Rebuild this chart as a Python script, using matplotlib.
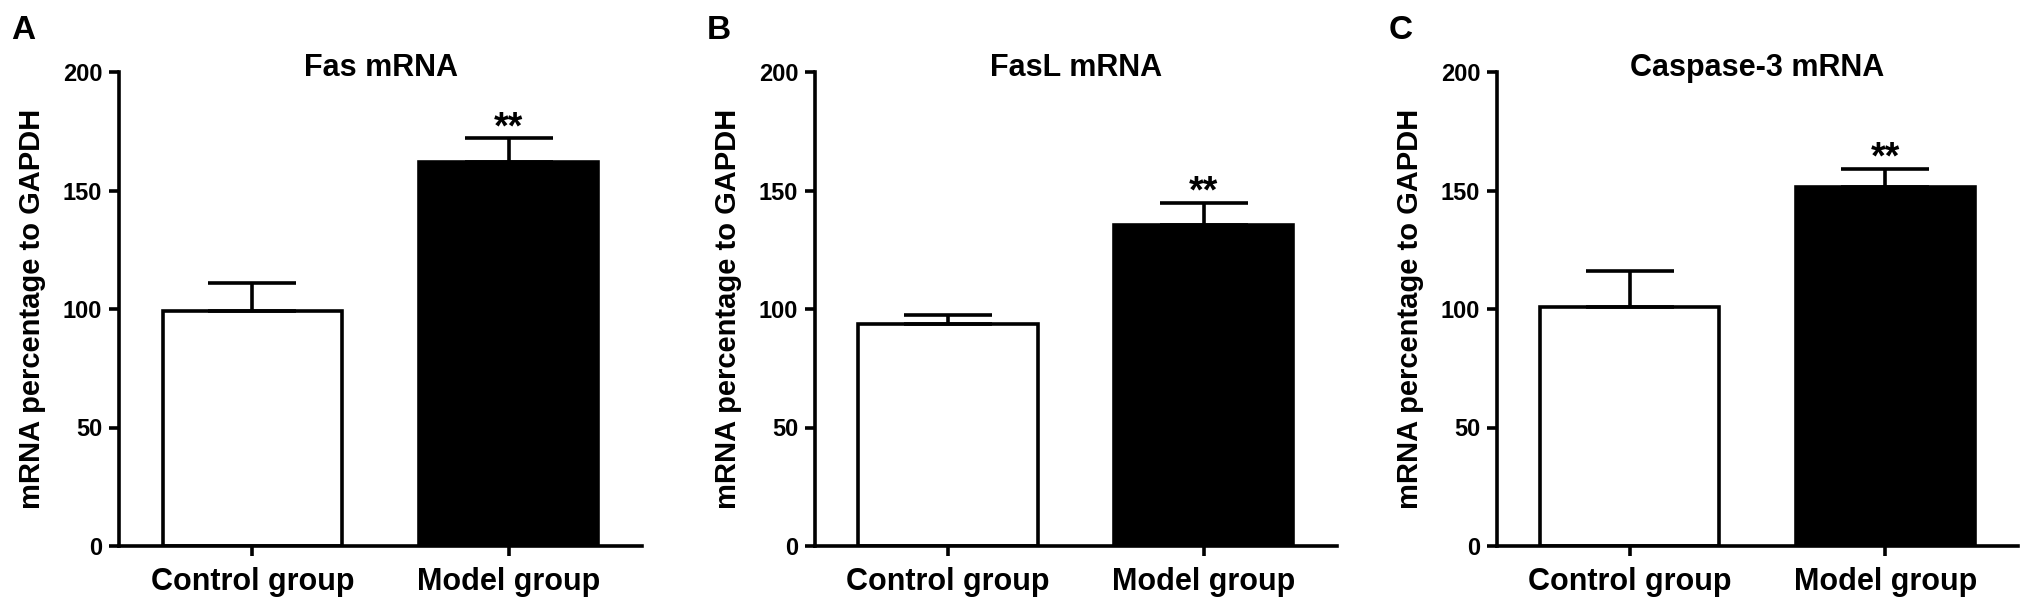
import matplotlib
matplotlib.use("Agg")
import matplotlib.pyplot as plt

plt.rcParams['font.family'] = ['Liberation Sans', 'DejaVu Sans']
plt.rcParams['font.weight'] = 'bold'

# ---- data ----
groups = ["Control group", "Model group"]
titles = ["Fas mRNA", "FasL mRNA", "Caspase-3 mRNA"]
panel_letters = ["A", "B", "C"]
fas_mean = [99.0, 162.0]
fas_err = [12.0, 10.0]
fasl_mean = [93.5, 135.4]
fasl_err = [3.8, 9.4]
casp_mean = [101.0, 151.3]
casp_err = [15.0, 7.8]
significance = ["", "**"]
y_ticks = [0, 50, 100, 150, 200]
ylabel = "mRNA percentage to GAPDH"

means_all = [fas_mean, fasl_mean, casp_mean]
errs_all = [fas_err, fasl_err, casp_err]
bar_colors = ["white", "black"]

W, H = 2031, 614
fig = plt.figure(figsize=(W / 100, H / 100), dpi=100)

lefts = [119, 815, 1497]
rights = [642, 1337, 2018]
top_px, bottom_px = 72, 546
lw = 2.6

for i in range(3):
    l, r = lefts[i], rights[i]
    ax = fig.add_axes([l / W, (H - bottom_px) / H, (r - l) / W, (bottom_px - top_px) / H])
    x = list(range(len(groups)))
    m = means_all[i]
    e = errs_all[i]
    ax.bar(x, m, width=0.7, color=bar_colors, edgecolor="black", linewidth=lw, zorder=2)
    ax.errorbar(x, m, yerr=[[0] * len(e), e], fmt="none", ecolor="black",
                elinewidth=lw, capsize=32, capthick=lw, zorder=3)
    for xi, mi, ei, s in zip(x, m, e, significance):
        if s:
            ax.text(xi, mi + ei, s, ha="center", va="baseline", fontsize=27,
                    fontweight="bold", zorder=4)
    ax.set_xlim(-0.52, 1.52)
    ax.set_ylim(0, 200)
    ax.set_yticks(y_ticks)
    ax.set_xticks(x)
    ax.set_xticklabels(groups)
    for sp in ["top", "right"]:
        ax.spines[sp].set_visible(False)
    for sp in ["left", "bottom"]:
        ax.spines[sp].set_linewidth(lw)
    ax.tick_params(axis="y", width=lw, length=7, labelsize=17, pad=5)
    ax.tick_params(axis="x", width=lw, length=7, labelsize=22, pad=8)
    ax.set_ylabel(ylabel, fontsize=21, fontweight="bold")
    ax.yaxis.set_label_coords(-0.14, 0.5)
    ax.text(0.5, 1 - 4 / (bottom_px - top_px), titles[i], transform=ax.transAxes,
            ha="center", va="baseline", fontsize=22, fontweight="bold")
    fig.text((l - 108) / W, (H - 39) / H, panel_letters[i], ha="left", va="baseline",
             fontsize=24, fontweight="bold")

fig.savefig("out.png", dpi=100)
